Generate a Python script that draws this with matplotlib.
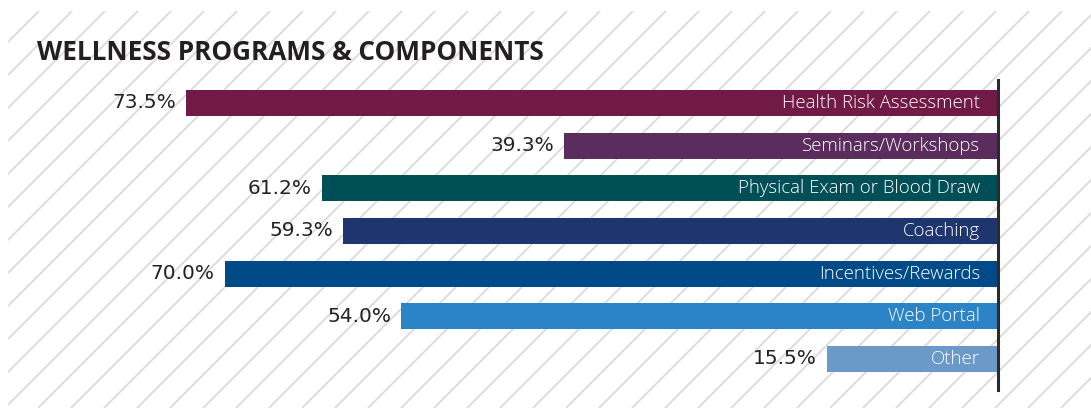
import numpy as np
import matplotlib
matplotlib.use('Agg')
import matplotlib.pyplot as plt

categories = ['Health Risk Assessment', 'Seminars/Workshops', 'Physical Exam or Blood Draw',
              'Coaching', 'Incentives/Rewards', 'Web Portal', 'Other']
values = [73.5, 39.3, 61.2, 59.3, 70.0, 54.0, 15.5]
colors = ['#701a45', '#5b2d5e', '#004f57', '#1f356e', '#004a87', '#2a84c6', '#6b9ac9']

W, H = 1091, 408
fig = plt.figure(figsize=(W / 100, H / 100), dpi=100)

# hatched background (pixel coords)
bg = fig.add_axes([0, 0, 1, 1], zorder=0)
bg.set_xlim(0, W)
bg.set_ylim(H, 0)
bg.axis('off')
x0, x1, y0, y1 = 7, W, 10, H
step = 33
for c in np.arange(x0 - (y1 - y0), x1 + step, step):
    xs = np.array([c, c + (y1 - y0)])
    ys = np.array([y1, y0])
    bg.plot(xs, ys, color='#dadada', lw=1.3, solid_capstyle='butt')
bg.fill_between([0, x0], 0, H, color='white', zorder=3)
bg.fill_between([0, W], 0, y0, color='white', zorder=3)

# bar axes: right edge at x=998, top at y=80, bottom at y=390
ax = fig.add_axes([0, 1 - 390 / H, 998 / W, 310 / H], zorder=1)
ax.patch.set_alpha(0)
px_per_unit = 812 / 73.5
ax.set_xlim(998 / px_per_unit, 0)
ax.set_ylim(6.727, -0.539)
y = np.arange(len(values))
ax.barh(y, values, height=0.61, color=colors, zorder=2)
for yi, v, lab in zip(y, values, categories):
    ax.text(v + 10 / px_per_unit, yi, f'{v:.1f}%', ha='right', va='center',
            fontsize=14.5, color='#222222', family='DejaVu Sans')
    ax.text(18 / px_per_unit, yi, lab, ha='right', va='center',
            fontsize=13.4, color='white', family='Open Sans', fontweight='light')
for s in ['top', 'bottom', 'left']:
    ax.spines[s].set_visible(False)
ax.spines['right'].set_color('#2b2b2b')
ax.spines['right'].set_linewidth(2.2)
ax.set_xticks([])
ax.set_yticks([])

fig.text(37 / W, 1 - 52 / H, 'WELLNESS PROGRAMS & COMPONENTS', ha='left', va='center',
         fontsize=18.8, fontweight='bold', color='#231f20', family='Open Sans')

fig.savefig('out.png', dpi=100)
